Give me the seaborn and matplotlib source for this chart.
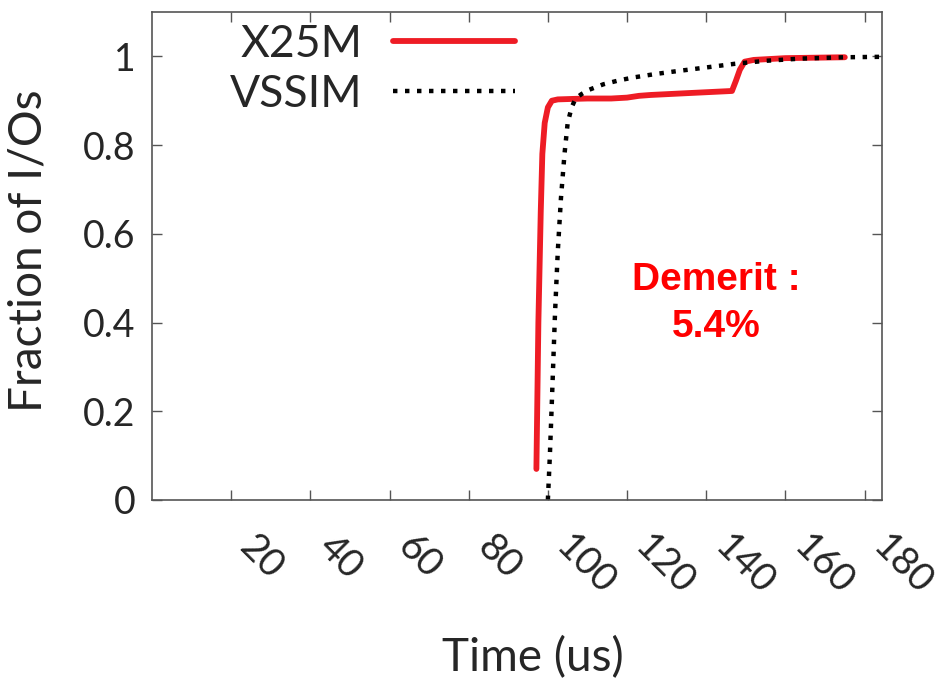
import matplotlib
matplotlib.use("Agg")
import matplotlib.pyplot as plt
import matplotlib.transforms as mtransforms
import seaborn as sns
import pandas as pd

# CDF of I/O latency: measured device vs. simulator
x25m_time = [97.1, 97.6, 98.2, 98.6, 99.2, 100.0, 101.0, 102.5, 106.0, 110.0, 116.0,
             120.0, 123.0, 126.0, 135.0, 146.5, 147.5, 148.5, 149.7, 152.0, 160.0, 175.0]
x25m_frac = [0.07, 0.40, 0.65, 0.78, 0.85, 0.885, 0.90, 0.903, 0.904, 0.905, 0.905,
             0.907, 0.911, 0.913, 0.917, 0.922, 0.945, 0.970, 0.988, 0.992, 0.996, 0.998]

vssim_time = [100.0, 100.5, 101.0, 101.8, 102.5, 103.3, 104.2, 105.0, 106.0, 107.0, 108.5,
              110.5, 114.0, 118.0, 122.0, 127.0, 132.0, 140.0, 147.0, 155.0, 164.0, 175.0, 184.5]
vssim_frac = [0.0, 0.10, 0.22, 0.42, 0.56, 0.68, 0.78, 0.85, 0.885, 0.905, 0.915,
              0.925, 0.937, 0.946, 0.953, 0.960, 0.966, 0.975, 0.983, 0.990, 0.995, 0.998, 0.999]

x_ticks = [20, 40, 60, 80, 100, 120, 140, 160, 180]
y_ticks = [0, 0.2, 0.4, 0.6, 0.8, 1]
y_tick_labels = ["0", "0.2", "0.4", "0.6", "0.8", "1"]

sns.set_theme(style="ticks")
plt.rcParams["font.family"] = ["Lato", "DejaVu Sans"]

x25m = pd.DataFrame({"time": x25m_time, "frac": x25m_frac})
vssim = pd.DataFrame({"time": vssim_time, "frac": vssim_frac})

fig = plt.figure(figsize=(9.38, 6.79), dpi=100)
ax = fig.add_axes([152 / 938, 1 - 500 / 679, 730 / 938, 488 / 679])

sns.lineplot(data=x25m, x="time", y="frac", ax=ax, color="#ee1c25", linewidth=4.2,
             estimator=None, sort=False, label="X25M")
sns.lineplot(data=vssim, x="time", y="frac", ax=ax, color="black", linewidth=3.2,
             linestyle=(0, (1.0, 1.7)), estimator=None, sort=False, label="VSSIM")
for ln in ax.lines[1:]:
    ln.set_dash_capstyle("butt")

ax.set_xlim(0, 184.4)
ax.set_ylim(0, 1.1)
ax.set_xticks(x_ticks)
ax.set_xticklabels([str(t) for t in x_ticks], rotation=-45, ha="left", va="center",
                   rotation_mode="anchor", fontsize=28)
ax.set_yticks(y_ticks)
ax.set_yticklabels(y_tick_labels, fontsize=27)
ax.tick_params(axis="both", direction="in", length=7, width=1.0, color="#555555",
               top=True, right=True)
ax.tick_params(axis="y", pad=12)
ax.tick_params(axis="x", pad=30)
# slanted labels start a little to the right of their ticks
shift = mtransforms.ScaledTranslation(14 / 100, 0, fig.dpi_scale_trans)
for lab in ax.get_xticklabels():
    lab.set_transform(lab.get_transform() + shift)
for sp in ax.spines.values():
    sp.set_color("#555555")
    sp.set_linewidth(1.2)

ax.set_xlabel("Time (us)", fontsize=33)
ax.set_ylabel("Fraction of I/Os", fontsize=33)
ax.xaxis.set_label_coords(0.522, -0.28)
ax.yaxis.set_label_coords(-0.14, 0.51)

leg = ax.legend(loc="upper left", bbox_to_anchor=(0.10, 0.985), frameon=False,
                markerfirst=False, fontsize=32, handlelength=2.75, handletextpad=0.7,
                labelspacing=0.2, borderaxespad=0, borderpad=0.1)
for h in leg.get_lines()[1:]:
    h.set_dash_capstyle("butt")

ax.text(0.773, 0.402, "Demerit :\n5.4%", transform=ax.transAxes, ha="center", va="center",
        color="#ff0000", fontsize=28, fontweight="bold", family="Liberation Sans",
        linespacing=1.4)

fig.savefig("out.png", dpi=100, facecolor="white")
